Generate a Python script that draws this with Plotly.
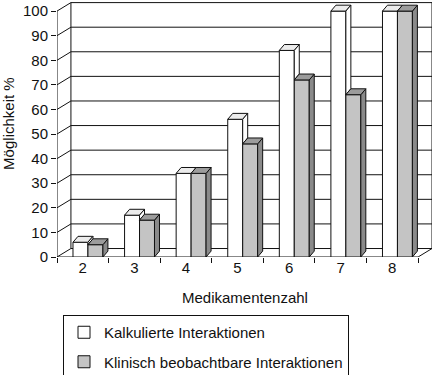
import plotly.graph_objects as go

# ---- data ----
categories = ["2", "3", "4", "5", "6", "7", "8"]
kalkuliert = [6, 17, 34, 56, 84, 100, 100]
klinisch = [5, 15, 34, 46, 72, 66, 100]
y_ticks = [0, 10, 20, 30, 40, 50, 60, 70, 80, 90, 100]

series_names = ["Kalkulierte Interaktionen", "Klinisch beobachtbare Interaktionen"]
x_title = "Medikamentenzahl"
y_title = "Möglichkeit %"

# ---- style constants ----
FONT = "Liberation Sans, Arial, Helvetica, sans-serif"
FS = 15
X = list(range(len(categories)))
W = 0.29          # bar width (category units)
SHIFT = 0.10      # bars sit a little back in depth
DX, DY = 0.097, 2.4    # bar depth offset (x units, y units)
BDX, BDY = 0.27, 3.45  # wall depth offset
YMAX = 104.1
X0 = -0.5
X1 = len(categories) - 0.5
XMAX = X1 + BDX
LINE = dict(color="#111111", width=1)
WHITE, WHITE_TOP = "#ffffff", "#ececec"
GREY, GREY_TOP, GREY_SIDE = "#c4c4c4", "#9c9c9c", "#8a8a8a"

fig = go.Figure()
fig.add_trace(go.Bar(
    x=X, y=kalkuliert, name=series_names[0], width=W, offset=SHIFT - W,
    marker=dict(color=WHITE, line=LINE), legendgroup="a"))
fig.add_trace(go.Bar(
    x=X, y=klinisch, name=series_names[1], width=W, offset=SHIFT,
    marker=dict(color=GREY, line=LINE), legendgroup="b"))
# invisible trace on xaxis2 to carry the boundary tick marks
fig.add_trace(go.Scatter(x=[X0, X1], y=[0, 0], xaxis="x2", mode="none",
                         showlegend=False, hoverinfo="skip"))

shapes = []

def line(x0, y0, x1, y1, layer="below"):
    shapes.append(dict(type="line", xref="x", yref="y", x0=x0, y0=y0, x1=x1, y1=y1,
                       line=LINE, layer=layer))

def poly(pts, fill, layer="above"):
    path = "M " + " L ".join(f"{px},{py}" for px, py in pts) + " Z"
    shapes.append(dict(type="path", xref="x", yref="y", path=path,
                       fillcolor=fill, line=LINE, layer=layer))

# back wall gridlines and left wall diagonals
for v in y_ticks:
    line(X0 + BDX, v + BDY, X1 + BDX, v + BDY)
    line(X0, v, X0 + BDX, v + BDY)
# wall edges
line(X0 + BDX, BDY, X0 + BDX, y_ticks[-1] + BDY)
line(X1 + BDX, BDY, X1 + BDX, y_ticks[-1] + BDY)
line(X1, 0, X1 + BDX, BDY)
# front axis and baseline
line(X0, 0, X0, y_ticks[-1])
line(X0, 0, X1, 0)

# 3D faces of bars
for i, (w, g) in enumerate(zip(kalkuliert, klinisch)):
    xw0 = i + SHIFT - W
    xw1 = i + SHIFT
    xg1 = xw1 + W
    poly([(xw0, w), (xw1, w), (xw1 + DX, w + DY), (xw0 + DX, w + DY)], WHITE_TOP)
    if w > g:
        poly([(xw1, g), (xw1, w), (xw1 + DX, w + DY), (xw1 + DX, g + DY)], WHITE)
    poly([(xg1, 0), (xg1, g), (xg1 + DX, g + DY), (xg1 + DX, DY)], GREY_SIDE)
    poly([(xw1, g), (xg1, g), (xg1 + DX, g + DY), (xw1 + DX, g + DY)], GREY_TOP)

fig.update_layout(
    width=433, height=375,
    margin=dict(l=57, r=1, t=1, b=118, autoexpand=False),
    paper_bgcolor="white", plot_bgcolor="white",
    font=dict(family=FONT, size=FS, color="#111111"),
    barmode="overlay",
    shapes=shapes,
    showlegend=True,
    legend=dict(
        xref="container", yref="container",
        x=63 / 433, y=1 - 315 / 375, xanchor="left", yanchor="top",
        bordercolor="#111111", borderwidth=1, bgcolor="white",
        font=dict(family=FONT, size=FS, color="#111111"),
        tracegroupgap=7, itemwidth=30,
    ),
    annotations=[
        dict(text=x_title, xref="paper", yref="paper", x=0.5, y=-0.16,
             xanchor="center", yanchor="middle", showarrow=False,
             font=dict(size=FS)),
        dict(text=y_title, xref="paper", yref="paper", x=-0.128, y=0.52,
             xanchor="center", yanchor="middle", showarrow=False, textangle=-90,
             font=dict(size=FS)),
    ],
    xaxis=dict(
        range=[X0, XMAX], tickmode="array", tickvals=X, ticktext=categories,
        ticks="", showgrid=False, zeroline=False, showline=False,
        tickfont=dict(size=FS),
    ),
    xaxis2=dict(
        range=[X0, XMAX], overlaying="x", side="bottom", anchor="y",
        tickmode="array", tickvals=[x - 0.5 for x in X] + [X1],
        showticklabels=False, ticks="outside", ticklen=5, tickcolor="#111111",
        showgrid=False, zeroline=False, showline=False,
    ),
    yaxis=dict(
        range=[0, YMAX], tickmode="array", tickvals=y_ticks,
        ticks="outside", ticklen=5, tickcolor="#111111",
        showgrid=False, zeroline=False, showline=False,
        tickfont=dict(size=FS),
    ),
)

fig.write_html("out.html", config={"displayModeBar": False},
               post_script="document.body.style.margin='0';")
